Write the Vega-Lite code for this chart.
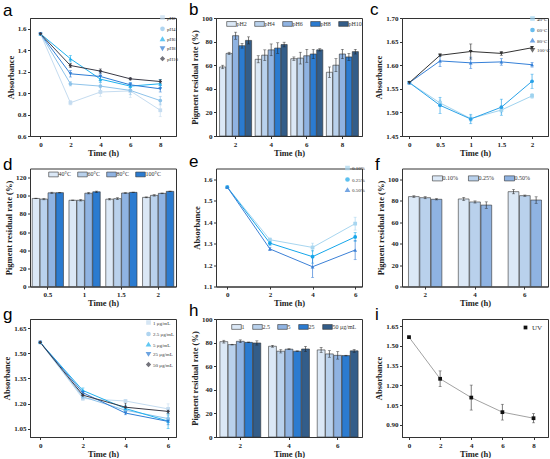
{
  "$schema": "https://vega.github.io/schema/vega-lite/v6.json",
  "padding": {"left": 2, "top": 0, "right": 2, "bottom": 0},
  "background": "white",
  "columns": 3,
  "bounds": "flush",
  "spacing": {"row": 32.5, "column": 40},
  "resolve": {
    "scale": {"x": "independent", "y": "independent", "color": "independent", "shape": "independent", "xOffset": "independent"},
    "legend": {"color": "independent", "shape": "independent"}
  },
  "concat": [
    {
      "title": {"text": "a"},
      "width": 146,
      "height": 118,
      "data": {
        "values": [
          {"t": 0, "g": "pH2", "v": 1.553, "e": 0.005},
          {"t": 2, "g": "pH2", "v": 0.91, "e": 0.02},
          {"t": 4, "g": "pH2", "v": 1.01, "e": 0.04},
          {"t": 6, "g": "pH2", "v": 1.02, "e": 0.06},
          {"t": 8, "g": "pH2", "v": 0.84, "e": 0.06},
          {"t": 0, "g": "pH4", "v": 1.553, "e": 0.005},
          {"t": 2, "g": "pH4", "v": 1.087, "e": 0.02},
          {"t": 4, "g": "pH4", "v": 1.065, "e": 0.04},
          {"t": 6, "g": "pH4", "v": 1.025, "e": 0.04},
          {"t": 8, "g": "pH4", "v": 0.93, "e": 0.04},
          {"t": 0, "g": "pH6", "v": 1.553, "e": 0.005},
          {"t": 2, "g": "pH6", "v": 1.32, "e": 0.03},
          {"t": 4, "g": "pH6", "v": 1.13, "e": 0.03},
          {"t": 6, "g": "pH6", "v": 1.065, "e": 0.03},
          {"t": 8, "g": "pH6", "v": 1.087, "e": 0.04},
          {"t": 0, "g": "pH8", "v": 1.553, "e": 0.005},
          {"t": 2, "g": "pH8", "v": 1.18, "e": 0.03},
          {"t": 4, "g": "pH8", "v": 1.155, "e": 0.04},
          {"t": 6, "g": "pH8", "v": 1.077, "e": 0.02},
          {"t": 8, "g": "pH8", "v": 1.04, "e": 0.03},
          {"t": 0, "g": "pH10", "v": 1.553, "e": 0.005},
          {"t": 2, "g": "pH10", "v": 1.257, "e": 0.02},
          {"t": 4, "g": "pH10", "v": 1.205, "e": 0.02},
          {"t": 6, "g": "pH10", "v": 1.133, "e": 0.01},
          {"t": 8, "g": "pH10", "v": 1.108, "e": 0.02}
        ]
      },
      "encoding": {
        "x": {"field": "t", "type": "quantitative", "title": "Time (h)", "scale": {"domain": [-0.7, 9.05], "nice": false, "zero": false}, "axis": {"values": [0, 2, 4, 6, 8]}},
        "y": {"field": "v", "type": "quantitative", "title": "Absorbance", "scale": {"domain": [0.6, 1.7], "nice": false, "zero": false}, "axis": {"values": [0.6, 0.8, 1.0, 1.2, 1.4, 1.6], "format": ".1f"}},
        "color": {"field": "g", "type": "nominal", "scale": {"domain": ["pH2", "pH4", "pH6", "pH8", "pH10"], "range": ["#c5dcf0", "#8ec3ea", "#1fb1ef", "#2f7dd4", "#3a3a46"]}, "legend": {"orient": "top-right", "offset": -3, "title": null, "rowPadding": 0.3, "symbolSize": 10, "labelOffset": 2, "labelFontSize": 5}}
      },
      "layer": [
        {"mark": {"type": "errorbar", "ticks": true, "size": 3, "thickness": 0.7}, "encoding": {"yError": {"field": "e"}}},
        {"mark": {"type": "line", "strokeWidth": 1}},
        {"mark": {"type": "point", "filled": true, "size": 14, "opacity": 1}, "encoding": {"shape": {"field": "g", "type": "nominal", "scale": {"domain": ["pH2", "pH4", "pH6", "pH8", "pH10"], "range": ["square", "circle", "triangle-up", "triangle-down", "diamond"]}, "legend": {"orient": "top-right", "offset": -3, "title": null, "rowPadding": 0.3, "symbolSize": 10, "labelOffset": 2, "labelFontSize": 5}}}}
      ]
    },
    {
      "title": {"text": "b"},
      "width": 146,
      "height": 118,
      "data": {
        "values": [
          {"t": "2", "g": "pH2", "v": 58.5, "e": 1.5},
          {"t": "2", "g": "pH4", "v": 70, "e": 1},
          {"t": "2", "g": "pH6", "v": 85, "e": 3},
          {"t": "2", "g": "pH8", "v": 76.5, "e": 2},
          {"t": "2", "g": "pH10", "v": 81, "e": 3},
          {"t": "4", "g": "pH2", "v": 65, "e": 3},
          {"t": "4", "g": "pH4", "v": 68.5, "e": 4.5},
          {"t": "4", "g": "pH6", "v": 73, "e": 5},
          {"t": "4", "g": "pH8", "v": 74.5, "e": 4.5},
          {"t": "4", "g": "pH10", "v": 77.5, "e": 2},
          {"t": "6", "g": "pH2", "v": 65.5, "e": 1.5},
          {"t": "6", "g": "pH4", "v": 66, "e": 5},
          {"t": "6", "g": "pH6", "v": 68, "e": 5.5},
          {"t": "6", "g": "pH8", "v": 69.5, "e": 4},
          {"t": "6", "g": "pH10", "v": 73, "e": 1},
          {"t": "8", "g": "pH2", "v": 54, "e": 4.5},
          {"t": "8", "g": "pH4", "v": 60, "e": 5.5},
          {"t": "8", "g": "pH6", "v": 69.5, "e": 4},
          {"t": "8", "g": "pH8", "v": 67, "e": 3},
          {"t": "8", "g": "pH10", "v": 71.5, "e": 2}
        ]
      },
      "transform": [
        {"calculate": "datum.v - datum.e", "as": "lo"},
        {"calculate": "datum.v + datum.e", "as": "hi"}
      ],
      "encoding": {
        "x": {"field": "t", "type": "ordinal", "title": "Time (h)", "scale": {"paddingInner": 0.1, "paddingOuter": 0.1}, "axis": {"labelAngle": 0}},
        "xOffset": {"field": "g", "type": "nominal", "scale": {"domain": ["pH2", "pH4", "pH6", "pH8", "pH10"], "paddingInner": 0.05}}
      },
      "layer": [
        {
          "mark": {"type": "bar", "stroke": "#333", "strokeWidth": 0.6},
          "encoding": {
            "y": {"field": "v", "type": "quantitative", "title": "Pigment residual rate (%)", "scale": {"domain": [0, 100], "nice": false}, "axis": {"values": [0, 20, 40, 60, 80, 100]}},
            "color": {"field": "g", "type": "nominal", "scale": {"domain": ["pH2", "pH4", "pH6", "pH8", "pH10"], "range": ["#dbe8f6", "#b9d1ec", "#8fb3e2", "#2b7bd0", "#335d89"]}, "legend": {"orient": "none", "legendX": 12, "legendY": 2, "direction": "horizontal", "title": null, "symbolType": "M-1.6,-0.8H1.6V0.8H-1.6Z", "symbolSize": 36, "symbolStrokeColor": "#333", "symbolStrokeWidth": 0.6, "columnPadding": 6, "labelOffset": 1.5, "labelFontSize": 6}}
          }
        },
        {"mark": {"type": "rule", "color": "#222", "strokeWidth": 0.6}, "encoding": {"y": {"field": "lo", "type": "quantitative", "title": "Pigment residual rate (%)", "scale": {"domain": [0, 100], "nice": false}, "axis": {"values": [0, 20, 40, 60, 80, 100]}}, "y2": {"field": "hi"}}},
        {"mark": {"type": "tick", "color": "#222", "size": 3, "thickness": 0.6}, "encoding": {"y": {"field": "lo", "type": "quantitative", "title": "Pigment residual rate (%)", "scale": {"domain": [0, 100], "nice": false}, "axis": {"values": [0, 20, 40, 60, 80, 100]}}}},
        {"mark": {"type": "tick", "color": "#222", "size": 3, "thickness": 0.6}, "encoding": {"y": {"field": "hi", "type": "quantitative", "title": "Pigment residual rate (%)", "scale": {"domain": [0, 100], "nice": false}, "axis": {"values": [0, 20, 40, 60, 80, 100]}}}}
      ]
    },
    {
      "title": {"text": "c", "dx": -32},
      "width": 146,
      "height": 118,
      "data": {
        "values": [
          {"t": 0, "g": "40°C", "v": 1.563, "e": 0.002},
          {"t": 0.5, "g": "40°C", "v": 1.52, "e": 0.006},
          {"t": 1, "g": "40°C", "v": 1.487, "e": 0.006},
          {"t": 1.5, "g": "40°C", "v": 1.505, "e": 0.006},
          {"t": 2, "g": "40°C", "v": 1.535, "e": 0.005},
          {"t": 0, "g": "60°C", "v": 1.563, "e": 0.002},
          {"t": 0.5, "g": "60°C", "v": 1.515, "e": 0.017},
          {"t": 1, "g": "60°C", "v": 1.486, "e": 0.01},
          {"t": 1.5, "g": "60°C", "v": 1.511, "e": 0.017},
          {"t": 2, "g": "60°C", "v": 1.566, "e": 0.015},
          {"t": 0, "g": "80°C", "v": 1.563, "e": 0.002},
          {"t": 0.5, "g": "80°C", "v": 1.609, "e": 0.012},
          {"t": 1, "g": "80°C", "v": 1.605, "e": 0.012},
          {"t": 1.5, "g": "80°C", "v": 1.607, "e": 0.007},
          {"t": 2, "g": "80°C", "v": 1.601, "e": 0.005},
          {"t": 0, "g": "100°C", "v": 1.563, "e": 0.002},
          {"t": 0.5, "g": "100°C", "v": 1.621, "e": 0.003},
          {"t": 1, "g": "100°C", "v": 1.629, "e": 0.016},
          {"t": 1.5, "g": "100°C", "v": 1.625, "e": 0.004},
          {"t": 2, "g": "100°C", "v": 1.637, "e": 0.002}
        ]
      },
      "encoding": {
        "x": {"field": "t", "type": "quantitative", "title": "Time (h)", "scale": {"domain": [-0.12, 2.26], "nice": false, "zero": false}, "axis": {"values": [0, 0.5, 1, 1.5, 2], "format": "~g"}},
        "y": {"field": "v", "type": "quantitative", "title": "Absorbance", "scale": {"domain": [1.45, 1.7], "nice": false, "zero": false}, "axis": {"values": [1.45, 1.5, 1.55, 1.6, 1.65, 1.7], "format": ".2f"}},
        "color": {"field": "g", "type": "nominal", "scale": {"domain": ["40°C", "60°C", "80°C", "100°C"], "range": ["#9fd3ef", "#2aa2e8", "#3580d8", "#333333"]}, "legend": {"orient": "top-right", "offset": -2, "title": null, "rowPadding": 0.5, "symbolSize": 10, "labelOffset": 2, "labelFontSize": 5}}
      },
      "layer": [
        {"mark": {"type": "errorbar", "ticks": true, "size": 3, "thickness": 0.7}, "encoding": {"yError": {"field": "e"}}},
        {"mark": {"type": "line", "strokeWidth": 1}},
        {"mark": {"type": "point", "filled": true, "size": 14, "opacity": 1}, "encoding": {"shape": {"field": "g", "type": "nominal", "scale": {"domain": ["40°C", "60°C", "80°C", "100°C"], "range": ["square", "circle", "triangle-up", "triangle-down"]}, "legend": {"orient": "top-right", "offset": -2, "title": null, "rowPadding": 0.5, "symbolSize": 10, "labelOffset": 2, "labelFontSize": 5}}}}
      ]
    },
    {
      "title": {"text": "d"},
      "width": 146,
      "height": 118,
      "data": {
        "values": [
          {"t": "0.5", "g": "40°C", "v": 97, "e": 0.3},
          {"t": "0.5", "g": "60°C", "v": 96.3, "e": 0.8},
          {"t": "0.5", "g": "80°C", "v": 103.2, "e": 0.7},
          {"t": "0.5", "g": "100°C", "v": 103.4, "e": 0.3},
          {"t": "1", "g": "40°C", "v": 95, "e": 0.3},
          {"t": "1", "g": "60°C", "v": 95, "e": 0.8},
          {"t": "1", "g": "80°C", "v": 102.8, "e": 0.8},
          {"t": "1", "g": "100°C", "v": 104.3, "e": 0.8},
          {"t": "1.5", "g": "40°C", "v": 96.2, "e": 0.8},
          {"t": "1.5", "g": "60°C", "v": 96.8, "e": 1},
          {"t": "1.5", "g": "80°C", "v": 103, "e": 0.4},
          {"t": "1.5", "g": "100°C", "v": 103.7, "e": 0.3},
          {"t": "2", "g": "40°C", "v": 98.2, "e": 0.5},
          {"t": "2", "g": "60°C", "v": 100.4, "e": 0.8},
          {"t": "2", "g": "80°C", "v": 102.6, "e": 0.4},
          {"t": "2", "g": "100°C", "v": 104.8, "e": 0.3}
        ]
      },
      "transform": [
        {"calculate": "datum.v - datum.e", "as": "lo"},
        {"calculate": "datum.v + datum.e", "as": "hi"}
      ],
      "encoding": {
        "x": {"field": "t", "type": "ordinal", "title": "Time (h)", "sort": ["0.5", "1", "1.5", "2"], "scale": {"paddingInner": 0.15, "paddingOuter": 0.06}, "axis": {"labelAngle": 0}},
        "xOffset": {"field": "g", "type": "nominal", "scale": {"domain": ["40°C", "60°C", "80°C", "100°C"], "paddingInner": 0.05}}
      },
      "layer": [
        {
          "mark": {"type": "bar", "stroke": "#333", "strokeWidth": 0.6},
          "encoding": {
            "y": {"field": "v", "type": "quantitative", "title": "Pigment residual rate (%)", "scale": {"domain": [0, 130], "nice": false}, "axis": {"values": [0, 20, 40, 60, 80, 100, 120]}},
            "color": {"field": "g", "type": "nominal", "scale": {"domain": ["40°C", "60°C", "80°C", "100°C"], "range": ["#dbe8f6", "#b9d1ec", "#8fb3e2", "#2b7bd0"]}, "legend": {"orient": "none", "legendX": 20, "legendY": 2, "direction": "horizontal", "title": null, "symbolType": "M-1.6,-0.8H1.6V0.8H-1.6Z", "symbolSize": 36, "symbolStrokeColor": "#333", "symbolStrokeWidth": 0.6, "columnPadding": 5, "labelOffset": 1.5, "labelFontSize": 6}}
          }
        },
        {"mark": {"type": "rule", "color": "#222", "strokeWidth": 0.6}, "encoding": {"y": {"field": "lo", "type": "quantitative", "title": "Pigment residual rate (%)", "scale": {"domain": [0, 130], "nice": false}, "axis": {"values": [0, 20, 40, 60, 80, 100, 120]}}, "y2": {"field": "hi"}}},
        {"mark": {"type": "tick", "color": "#222", "size": 3, "thickness": 0.6}, "encoding": {"y": {"field": "lo", "type": "quantitative", "title": "Pigment residual rate (%)", "scale": {"domain": [0, 130], "nice": false}, "axis": {"values": [0, 20, 40, 60, 80, 100, 120]}}}},
        {"mark": {"type": "tick", "color": "#222", "size": 3, "thickness": 0.6}, "encoding": {"y": {"field": "hi", "type": "quantitative", "title": "Pigment residual rate (%)", "scale": {"domain": [0, 130], "nice": false}, "axis": {"values": [0, 20, 40, 60, 80, 100, 120]}}}}
      ]
    },
    {
      "title": {"text": "e"},
      "width": 146,
      "height": 118,
      "data": {
        "values": [
          {"t": 0, "g": "0.10%", "v": 1.563, "e": 0.004},
          {"t": 2, "g": "0.10%", "v": 1.318, "e": 0.008},
          {"t": 4, "g": "0.10%", "v": 1.282, "e": 0.02},
          {"t": 6, "g": "0.10%", "v": 1.393, "e": 0.03},
          {"t": 0, "g": "0.25%", "v": 1.563, "e": 0.004},
          {"t": 2, "g": "0.25%", "v": 1.302, "e": 0.01},
          {"t": 4, "g": "0.25%", "v": 1.239, "e": 0.03},
          {"t": 6, "g": "0.25%", "v": 1.331, "e": 0.02},
          {"t": 0, "g": "0.50%", "v": 1.563, "e": 0.004},
          {"t": 2, "g": "0.50%", "v": 1.275, "e": 0.008},
          {"t": 4, "g": "0.50%", "v": 1.192, "e": 0.05},
          {"t": 6, "g": "0.50%", "v": 1.27, "e": 0.045}
        ]
      },
      "encoding": {
        "x": {"field": "t", "type": "quantitative", "title": "Time (h)", "scale": {"domain": [-0.53, 6.32], "nice": false, "zero": false}, "axis": {"values": [0, 2, 4, 6]}},
        "y": {"field": "v", "type": "quantitative", "title": "Absorbance", "scale": {"domain": [1.1, 1.65], "nice": false, "zero": false}, "axis": {"values": [1.1, 1.2, 1.3, 1.4, 1.5, 1.6], "format": ".1f"}},
        "color": {"field": "g", "type": "nominal", "scale": {"domain": ["0.10%", "0.25%", "0.50%"], "range": ["#a8d6f0", "#16a6ea", "#3c80d6"]}, "legend": {"orient": "top-right", "offset": -3, "title": null, "rowPadding": 0.5, "symbolSize": 10, "labelOffset": 2, "labelFontSize": 5}}
      },
      "layer": [
        {"mark": {"type": "errorbar", "ticks": true, "size": 3, "thickness": 0.7}, "encoding": {"yError": {"field": "e"}}},
        {"mark": {"type": "line", "strokeWidth": 1}},
        {"mark": {"type": "point", "filled": true, "size": 14, "opacity": 1}, "encoding": {"shape": {"field": "g", "type": "nominal", "scale": {"domain": ["0.10%", "0.25%", "0.50%"], "range": ["square", "circle", "triangle-up"]}, "legend": {"orient": "top-right", "offset": -3, "title": null, "rowPadding": 0.5, "symbolSize": 10, "labelOffset": 2, "labelFontSize": 5}}}}
      ]
    },
    {
      "title": {"text": "f"},
      "width": 146,
      "height": 118,
      "data": {
        "values": [
          {"t": "2", "g": "0.10%", "v": 83.8, "e": 0.8},
          {"t": "2", "g": "0.25%", "v": 82.8, "e": 1},
          {"t": "2", "g": "0.50%", "v": 81.3, "e": 0.6},
          {"t": "4", "g": "0.10%", "v": 81.6, "e": 1.5},
          {"t": "4", "g": "0.25%", "v": 78.8, "e": 1},
          {"t": "4", "g": "0.50%", "v": 75.9, "e": 3},
          {"t": "6", "g": "0.10%", "v": 88.4, "e": 2},
          {"t": "6", "g": "0.25%", "v": 84.7, "e": 0.6},
          {"t": "6", "g": "0.50%", "v": 80.6, "e": 3}
        ]
      },
      "transform": [
        {"calculate": "datum.v - datum.e", "as": "lo"},
        {"calculate": "datum.v + datum.e", "as": "hi"}
      ],
      "encoding": {
        "x": {"field": "t", "type": "ordinal", "title": "Time (h)", "scale": {"paddingInner": 0.33, "paddingOuter": 0.13}, "axis": {"labelAngle": 0}},
        "xOffset": {"field": "g", "type": "nominal", "scale": {"domain": ["0.10%", "0.25%", "0.50%"], "paddingInner": 0.05}}
      },
      "layer": [
        {
          "mark": {"type": "bar", "stroke": "#333", "strokeWidth": 0.6},
          "encoding": {
            "y": {"field": "v", "type": "quantitative", "title": "Pigment residual rate (%)", "scale": {"domain": [0, 110], "nice": false}, "axis": {"values": [0, 20, 40, 60, 80, 100]}},
            "color": {"field": "g", "type": "nominal", "scale": {"domain": ["0.10%", "0.25%", "0.50%"], "range": ["#dbe8f6", "#b9d1ec", "#8fb3e2"]}, "legend": {"orient": "none", "legendX": 32, "legendY": 6, "direction": "horizontal", "title": null, "symbolType": "M-1.6,-0.8H1.6V0.8H-1.6Z", "symbolSize": 40, "symbolStrokeColor": "#333", "symbolStrokeWidth": 0.6, "columnPadding": 9, "labelOffset": 1.5, "labelFontSize": 6}}
          }
        },
        {"mark": {"type": "rule", "color": "#222", "strokeWidth": 0.6}, "encoding": {"y": {"field": "lo", "type": "quantitative", "title": "Pigment residual rate (%)", "scale": {"domain": [0, 110], "nice": false}, "axis": {"values": [0, 20, 40, 60, 80, 100]}}, "y2": {"field": "hi"}}},
        {"mark": {"type": "tick", "color": "#222", "size": 3, "thickness": 0.6}, "encoding": {"y": {"field": "lo", "type": "quantitative", "title": "Pigment residual rate (%)", "scale": {"domain": [0, 110], "nice": false}, "axis": {"values": [0, 20, 40, 60, 80, 100]}}}},
        {"mark": {"type": "tick", "color": "#222", "size": 3, "thickness": 0.6}, "encoding": {"y": {"field": "hi", "type": "quantitative", "title": "Pigment residual rate (%)", "scale": {"domain": [0, 110], "nice": false}, "axis": {"values": [0, 20, 40, 60, 80, 100]}}}}
      ]
    },
    {
      "title": {"text": "g"},
      "width": 146,
      "height": 118,
      "data": {
        "values": [
          {"t": 0, "g": "1 μg/mL", "v": 1.565, "e": 0.003},
          {"t": 2, "g": "1 μg/mL", "v": 1.23, "e": 0.01},
          {"t": 4, "g": "1 μg/mL", "v": 1.215, "e": 0.01},
          {"t": 6, "g": "1 μg/mL", "v": 1.168, "e": 0.03},
          {"t": 0, "g": "2.5 μg/mL", "v": 1.565, "e": 0.003},
          {"t": 2, "g": "2.5 μg/mL", "v": 1.24, "e": 0.01},
          {"t": 4, "g": "2.5 μg/mL", "v": 1.16, "e": 0.01},
          {"t": 6, "g": "2.5 μg/mL", "v": 1.11, "e": 0.02},
          {"t": 0, "g": "5 μg/mL", "v": 1.565, "e": 0.003},
          {"t": 2, "g": "5 μg/mL", "v": 1.278, "e": 0.015},
          {"t": 4, "g": "5 μg/mL", "v": 1.17, "e": 0.02},
          {"t": 6, "g": "5 μg/mL", "v": 1.095, "e": 0.045},
          {"t": 0, "g": "25 μg/mL", "v": 1.565, "e": 0.003},
          {"t": 2, "g": "25 μg/mL", "v": 1.265, "e": 0.01},
          {"t": 4, "g": "25 μg/mL", "v": 1.143, "e": 0.01},
          {"t": 6, "g": "25 μg/mL", "v": 1.093, "e": 0.02},
          {"t": 0, "g": "50 μg/mL", "v": 1.565, "e": 0.003},
          {"t": 2, "g": "50 μg/mL", "v": 1.25, "e": 0.02},
          {"t": 4, "g": "50 μg/mL", "v": 1.178, "e": 0.025},
          {"t": 6, "g": "50 μg/mL", "v": 1.153, "e": 0.015}
        ]
      },
      "encoding": {
        "x": {"field": "t", "type": "quantitative", "title": "Time (h)", "scale": {"domain": [-0.48, 6.37], "nice": false, "zero": false}, "axis": {"values": [0, 2, 4, 6]}},
        "y": {"field": "v", "type": "quantitative", "title": "Absorbance", "scale": {"domain": [1.0, 1.705], "nice": false, "zero": false}, "axis": {"values": [1.05, 1.2, 1.35, 1.5, 1.65], "format": ".2f"}},
        "color": {"field": "g", "type": "nominal", "scale": {"domain": ["1 μg/mL", "2.5 μg/mL", "5 μg/mL", "25 μg/mL", "50 μg/mL"], "range": ["#c5dcf0", "#8ec3ea", "#1fb1ef", "#2f7dd4", "#3a3a46"]}, "legend": {"orient": "top-right", "offset": 1, "title": null, "rowPadding": 0.5, "symbolSize": 10, "labelOffset": 2, "labelFontSize": 5}}
      },
      "layer": [
        {"mark": {"type": "errorbar", "ticks": true, "size": 3, "thickness": 0.7}, "encoding": {"yError": {"field": "e"}}},
        {"mark": {"type": "line", "strokeWidth": 1}},
        {"mark": {"type": "point", "filled": true, "size": 14, "opacity": 1}, "encoding": {"shape": {"field": "g", "type": "nominal", "scale": {"domain": ["1 μg/mL", "2.5 μg/mL", "5 μg/mL", "25 μg/mL", "50 μg/mL"], "range": ["square", "circle", "triangle-up", "triangle-down", "diamond"]}, "legend": {"orient": "top-right", "offset": 1, "title": null, "rowPadding": 0.5, "symbolSize": 10, "labelOffset": 2, "labelFontSize": 5}}}}
      ]
    },
    {
      "title": {"text": "h"},
      "width": 146,
      "height": 118,
      "data": {
        "values": [
          {"t": "2", "g": "1", "v": 80.8, "e": 1.2},
          {"t": "2", "g": "2.5", "v": 78.3, "e": 0.3},
          {"t": "2", "g": "5", "v": 81.1, "e": 1.2},
          {"t": "2", "g": "25", "v": 80.2, "e": 0.3},
          {"t": "2", "g": "50 μg/mL", "v": 79.7, "e": 1.8},
          {"t": "4", "g": "1", "v": 76.9, "e": 0.8},
          {"t": "4", "g": "2.5", "v": 72.7, "e": 1.5},
          {"t": "4", "g": "5", "v": 74.4, "e": 0.4},
          {"t": "4", "g": "25", "v": 72.7, "e": 0.3},
          {"t": "4", "g": "50 μg/mL", "v": 74.6, "e": 2.2},
          {"t": "6", "g": "1", "v": 73.8, "e": 2.2},
          {"t": "6", "g": "2.5", "v": 70.4, "e": 2.8},
          {"t": "6", "g": "5", "v": 69.2, "e": 3.2},
          {"t": "6", "g": "25", "v": 69, "e": 0.3},
          {"t": "6", "g": "50 μg/mL", "v": 73, "e": 1.2}
        ]
      },
      "transform": [
        {"calculate": "datum.v - datum.e", "as": "lo"},
        {"calculate": "datum.v + datum.e", "as": "hi"}
      ],
      "encoding": {
        "x": {"field": "t", "type": "ordinal", "title": "Time (h)", "scale": {"paddingInner": 0.16, "paddingOuter": 0.08}, "axis": {"labelAngle": 0}},
        "xOffset": {"field": "g", "type": "nominal", "scale": {"domain": ["1", "2.5", "5", "25", "50 μg/mL"], "paddingInner": 0.05}}
      },
      "layer": [
        {
          "mark": {"type": "bar", "stroke": "#333", "strokeWidth": 0.6},
          "encoding": {
            "y": {"field": "v", "type": "quantitative", "title": "Pigment residual rate (%)", "scale": {"domain": [0, 100], "nice": false}, "axis": {"values": [0, 20, 40, 60, 80, 100]}},
            "color": {"field": "g", "type": "nominal", "scale": {"domain": ["1", "2.5", "5", "25", "50 μg/mL"], "range": ["#dbe8f6", "#b9d1ec", "#8fb3e2", "#2b7bd0", "#335d89"]}, "legend": {"orient": "none", "legendX": 17, "legendY": 4, "direction": "horizontal", "title": null, "symbolType": "M-1.6,-0.8H1.6V0.8H-1.6Z", "symbolSize": 36, "symbolStrokeColor": "#333", "symbolStrokeWidth": 0.6, "columnPadding": 6, "labelOffset": 1.5, "labelFontSize": 6}}
          }
        },
        {"mark": {"type": "rule", "color": "#222", "strokeWidth": 0.6}, "encoding": {"y": {"field": "lo", "type": "quantitative", "title": "Pigment residual rate (%)", "scale": {"domain": [0, 100], "nice": false}, "axis": {"values": [0, 20, 40, 60, 80, 100]}}, "y2": {"field": "hi"}}},
        {"mark": {"type": "tick", "color": "#222", "size": 3, "thickness": 0.6}, "encoding": {"y": {"field": "lo", "type": "quantitative", "title": "Pigment residual rate (%)", "scale": {"domain": [0, 100], "nice": false}, "axis": {"values": [0, 20, 40, 60, 80, 100]}}}},
        {"mark": {"type": "tick", "color": "#222", "size": 3, "thickness": 0.6}, "encoding": {"y": {"field": "hi", "type": "quantitative", "title": "Pigment residual rate (%)", "scale": {"domain": [0, 100], "nice": false}, "axis": {"values": [0, 20, 40, 60, 80, 100]}}}}
      ]
    },
    {
      "title": {"text": "i"},
      "width": 146,
      "height": 118,
      "data": {
        "values": [
          {"t": 0, "g": "UV", "v": 1.567, "e": 0.002},
          {"t": 2, "g": "UV", "v": 1.25, "e": 0.06},
          {"t": 4, "g": "UV", "v": 1.107, "e": 0.095},
          {"t": 6, "g": "UV", "v": 0.996, "e": 0.06},
          {"t": 8, "g": "UV", "v": 0.95, "e": 0.035}
        ]
      },
      "encoding": {
        "x": {"field": "t", "type": "quantitative", "title": "Time (h)", "scale": {"domain": [-0.45, 8.93], "nice": false, "zero": false}, "axis": {"values": [0, 2, 4, 6, 8]}},
        "y": {"field": "v", "type": "quantitative", "title": "Absorbance", "scale": {"domain": [0.807, 1.705], "nice": false, "zero": false}, "axis": {"values": [0.9, 1.05, 1.2, 1.35, 1.5, 1.65], "format": ".2f"}}
      },
      "layer": [
        {"mark": {"type": "errorbar", "ticks": true, "size": 3, "thickness": 0.7, "color": "#444"}, "encoding": {"yError": {"field": "e"}}},
        {"mark": {"type": "line", "strokeWidth": 0.8, "color": "#8a8a8a"}},
        {
          "mark": {"type": "point", "filled": true, "size": 14, "opacity": 1, "shape": "square"},
          "encoding": {
            "color": {"field": "g", "type": "nominal", "scale": {"range": ["#111111"]}, "legend": {"orient": "top-right", "offset": 5, "title": null, "symbolSize": 14, "labelOffset": 3, "labelFontSize": 7}}
          }
        }
      ]
    }
  ],
  "config": {
    "view": {"stroke": "#333", "strokeWidth": 1},
    "title": {"anchor": "start", "frame": "group", "dx": -27, "offset": -5, "baseline": "alphabetic", "font": "Liberation Sans", "fontSize": 17, "fontWeight": "normal", "color": "#000"},
    "axis": {"grid": false, "labelOverlap": false, "labelFont": "Liberation Serif", "labelFontWeight": "bold", "labelFontSize": 7, "labelColor": "#222", "titleFont": "Liberation Serif", "titleFontWeight": "bold", "titleFontSize": 8.5, "titleColor": "#222", "tickSize": 2.5, "tickColor": "#333", "domainColor": "#333", "labelPadding": 1.5},
    "axisX": {"titlePadding": 1},
    "axisY": {"titlePadding": 2},
    "legend": {"labelFont": "Liberation Serif", "labelFontSize": 5.5, "labelColor": "#333"}
  }
}
